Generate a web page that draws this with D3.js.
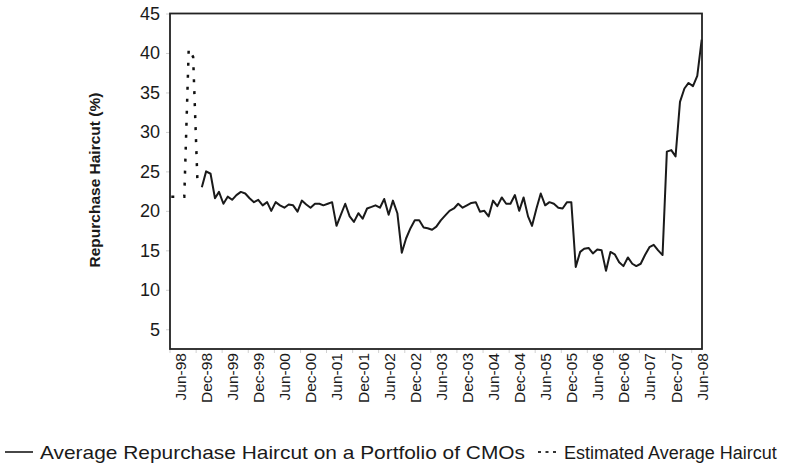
<!DOCTYPE html>
<html>
<head>
<meta charset="utf-8">
<script src="https://cdn.jsdelivr.net/npm/d3@7"></script>
<style>
  body { margin: 0; background: #fff; }
  text { font-family: Arial, "Liberation Sans", sans-serif; fill: #1a1a1a; }
</style>
</head>
<body>
<div class="chart-container"></div>
<script>
// tick labels on the x axis (every 6 months)
var xLabels = ["Jun-98","Dec-98","Jun-99","Dec-99","Jun-00","Dec-00","Jun-01","Dec-01",
  "Jun-02","Dec-02","Jun-03","Dec-03","Jun-04","Dec-04","Jun-05","Dec-05",
  "Jun-06","Dec-06","Jun-07","Dec-07","Jun-08"];
var yTicks = [5, 10, 15, 20, 25, 30, 35, 40, 45];

// estimated haircut (dashed), Apr-98 .. Oct-98
var estMonths = ["Apr-98","May-98","Jun-98","Jul-98","Aug-98","Sep-98","Oct-98"];
var estValues = [21.8, 21.8, 21.8, 21.8, 40.5, 39.5, 23.8];

// average haircut on CMO portfolio (solid), monthly Nov-98 .. Jun-08
var avgStart = "Nov-98", avgEnd = "Jun-08";
var avgValues = [
  23.0, 25.0,                                                         // 1998
  24.7, 21.6, 22.4, 20.9, 21.8, 21.4, 22.0, 22.4, 22.2, 21.6, 21.1, 21.4, // 1999
  20.7, 21.1, 20.0, 21.1, 20.7, 20.4, 20.8, 20.7, 19.9, 21.3, 20.8, 20.4, // 2000
  20.9, 20.9, 20.7, 20.9, 21.1, 18.1, 19.5, 20.9, 19.3, 18.6, 19.7, 19.0, // 2001
  20.3, 20.5, 20.7, 20.4, 21.5, 19.5, 21.3, 19.7, 14.7, 16.5, 17.8, 18.8, // 2002
  18.8, 17.9, 17.8, 17.6, 18.0, 18.8, 19.4, 20.0, 20.3, 20.9, 20.4, 20.7, // 2003
  21.0, 21.1, 19.9, 20.0, 19.3, 21.3, 20.6, 21.7, 20.9, 20.9, 22.0, 20.0, // 2004
  21.7, 19.3, 18.1, 20.3, 22.2, 20.7, 21.1, 20.9, 20.4, 20.3, 21.1, 21.1, // 2005
  12.9, 14.8, 15.2, 15.3, 14.6, 15.1, 15.0, 12.4, 14.8, 14.5, 13.5, 13.0, // 2006
  14.1, 13.3, 13.0, 13.3, 14.4, 15.4, 15.7, 15.0, 14.4, 27.5, 27.7, 26.9, // 2007
  33.8, 35.5, 36.2, 35.8, 37.1, 41.7                                  // 2008
];

var legendLabels = ["Average Repurchase Haircut on a Portfolio of CMOs", "Estimated Average Haircut"];

var W = 788, H = 471;
var margin = {top: 13.5, right: 86, bottom: 122, left: 170},
    width = W - margin.left - margin.right,
    height = H - margin.top - margin.bottom;

var parseMonth = d3.timeParse("%b-%y");

var svg = d3.select(".chart-container")
  .append("svg")
  .attr("width", W)
  .attr("height", H);

var g = svg.append("g")
  .attr("transform", "translate(" + margin.left + "," + margin.top + ")");

// x: first label sits ~10px inside the left frame, last label at the right frame
var x = d3.scaleTime()
  .domain([parseMonth(xLabels[0]), parseMonth(xLabels[xLabels.length - 1])])
  .range([10, width - 0.3]);

var y = d3.scaleLinear()
  .domain([2.5, 45])
  .range([height, 0]);

// y axis: faint ticks, labels
var yAxis = g.append("g")
  .call(d3.axisLeft(y).tickValues(yTicks).tickSize(4).tickPadding(6));
yAxis.select(".domain").remove();
yAxis.selectAll("line").attr("stroke", "#d0d0d0");
yAxis.selectAll("text").style("font-size", "18px").attr("fill", "#1a1a1a");

g.append("text")
  .attr("transform", "rotate(-90)")
  .attr("x", -(y(23.9)))
  .attr("y", -70)
  .attr("text-anchor", "middle")
  .style("font-size", "15.5px")
  .style("font-weight", "bold")
  .text("Repurchase Haircut (%)");

// x axis labels, rotated
var xAxis = g.append("g")
  .attr("transform", "translate(0," + height + ")")
  .call(d3.axisBottom(x)
    .tickValues(xLabels.map(parseMonth))
    .tickSize(0)
    .tickFormat(d3.timeFormat("%b-%y")));
xAxis.select(".domain").remove();
xAxis.selectAll("text")
  .style("font-size", "15.5px")
  .attr("fill", "#1a1a1a")
  .attr("transform", "rotate(-90)")
  .attr("text-anchor", "end")
  .attr("x", -4)
  .attr("y", 0)
  .attr("dy", "0.35em");

// small tick marks sit between the labels
g.append("g")
  .selectAll("line")
  .data(xLabels.map(parseMonth))
  .enter().append("line")
  .attr("x1", function(d) { return x(d) - 10; })
  .attr("x2", function(d) { return x(d) - 10; })
  .attr("y1", height)
  .attr("y2", height + 4)
  .attr("stroke", "#d0d0d0");

// series
var estData = estMonths.map(function(m, i) { return {date: parseMonth(m), value: estValues[i]}; });
var avgMonths = d3.timeMonth.range(parseMonth(avgStart), d3.timeMonth.offset(parseMonth(avgEnd), 1));
var avgData = avgMonths.map(function(m, i) { return {date: m, value: avgValues[i]}; });

var line = d3.line()
  .x(function(d) { return x(d.date); })
  .y(function(d) { return y(d.value); });

g.append("path")
  .datum(estData)
  .attr("fill", "none")
  .attr("stroke", "#111")
  .attr("stroke-width", 2.5)
  .attr("stroke-dasharray", "3,9")
  .attr("d", line);

g.append("path")
  .datum(avgData)
  .attr("fill", "none")
  .attr("stroke", "#1a1a1a")
  .attr("stroke-width", 2)
  .attr("stroke-linejoin", "round")
  .attr("d", line);

// plot frame
g.append("rect")
  .attr("x", 0)
  .attr("y", 0)
  .attr("width", width)
  .attr("height", height)
  .attr("fill", "none")
  .attr("stroke", "#222")
  .attr("stroke-width", 1.8);

// legend
var legend = svg.append("g").attr("transform", "translate(0,452)");
legend.append("line")
  .attr("x1", 5).attr("x2", 33).attr("y1", 0).attr("y2", 0)
  .attr("stroke", "#333").attr("stroke-width", 1.8);
legend.append("text")
  .attr("x", 40).attr("y", 6.5)
  .style("font-size", "19px")
  .attr("textLength", 485)
  .attr("lengthAdjust", "spacingAndGlyphs")
  .text(legendLabels[0]);
legend.append("line")
  .attr("x1", 538).attr("x2", 556).attr("y1", 0).attr("y2", 0)
  .attr("stroke", "#333").attr("stroke-width", 2)
  .attr("stroke-dasharray", "3,4.5");
legend.append("text")
  .attr("x", 564).attr("y", 6.5)
  .style("font-size", "18px")
  .text(legendLabels[1]);
</script>
</body>
</html>
